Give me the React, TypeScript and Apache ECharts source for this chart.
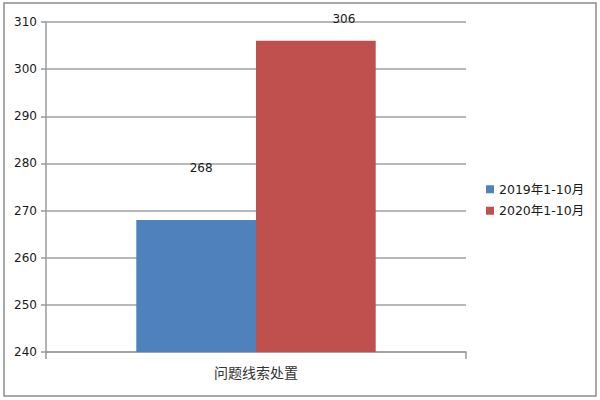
import React, { useEffect, useRef } from "react";
import * as echarts from "echarts";

const categories = ["问题线索处置"];
const seriesNames = ["2019年1-10月", "2020年1-10月"];
const values2019 = [268];
const values2020 = [306];
const yTicks = { min: 240, max: 310, interval: 10 };

const FONT = "'DejaVu Sans', 'Noto Sans CJK SC', sans-serif";

const App: React.FC = () => {
  const chartRef = useRef<HTMLDivElement>(null);

  useEffect(() => {
    if (!chartRef.current) return;
    const chart = echarts.init(chartRef.current, undefined, { renderer: "svg" });

    chart.setOption({
      animation: false,
      backgroundColor: "#ffffff",
      grid: { left: 46, right: 134, top: 22, bottom: 48 },
      legend: {
        orient: "vertical",
        left: 481,
        top: 178,
        itemWidth: 8,
        itemHeight: 8,
        itemGap: 9,
        icon: "rect",
        textStyle: { fontFamily: FONT, fontSize: 12.5, color: "#1a1a1a" },
        data: seriesNames,
      },
      xAxis: {
        type: "category",
        data: categories,
        axisLine: { lineStyle: { color: "#9a9a9a", width: 1.5 } },
        axisTick: { show: true, length: 7, lineStyle: { color: "#9a9a9a", width: 1.5 } },
        axisLabel: { fontFamily: FONT, fontSize: 14, color: "#333", margin: 14 },
      },
      yAxis: {
        type: "value",
        min: yTicks.min,
        max: yTicks.max,
        interval: yTicks.interval,
        axisLine: { show: true, lineStyle: { color: "#9a9a9a", width: 1.5 } },
        axisTick: { show: true, length: 5, lineStyle: { color: "#9a9a9a", width: 1.5 } },
        axisLabel: { fontFamily: FONT, fontSize: 12, color: "#1a1a1a", margin: 9 },
        splitLine: { lineStyle: { color: "#a0a0a0", width: 1.5 } },
      },
      series: [
        {
          name: seriesNames[0],
          type: "bar",
          data: values2019,
          barGap: "0%",
          barCategoryGap: "43%",
          itemStyle: { color: "#4f81bd" },
          label: {
            show: true,
            position: "top",
            offset: [5, -41],
            fontFamily: FONT,
            fontSize: 12,
            color: "#1a1a1a",
          },
        },
        {
          name: seriesNames[1],
          type: "bar",
          data: values2020,
          barGap: "0%",
          barCategoryGap: "43%",
          itemStyle: { color: "#c0504d" },
          label: {
            show: true,
            position: "top",
            offset: [28, -11],
            fontFamily: FONT,
            fontSize: 12,
            color: "#1a1a1a",
          },
        },
      ],
      graphic: [
        {
          type: "rect",
          shape: { x: 4, y: 3, width: 592, height: 393 },
          style: { fill: "none", stroke: "#8c8c8c", lineWidth: 1.5 },
          silent: true,
        },
      ],
    });

    return () => {
      chart.dispose();
    };
  }, []);

  return (
    <div
      ref={chartRef}
      style={{ position: "absolute", left: 0, top: 0, width: "600px", height: "400px" }}
    ></div>
  );
};

export default App;
